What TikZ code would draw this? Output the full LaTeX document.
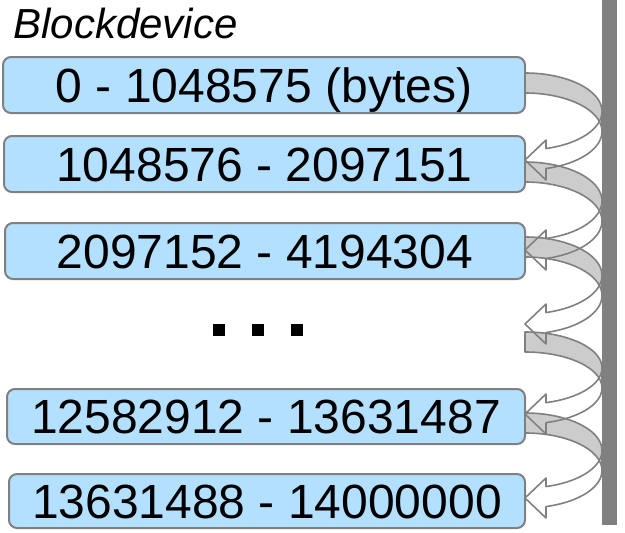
\documentclass[tikz,border=0pt]{standalone}
\usepackage{fontspec}
\setmainfont{Liberation Sans}
\definecolor{boxfill}{HTML}{B4E0FF}
\definecolor{edgegray}{HTML}{808080}
\definecolor{bandgray}{HTML}{CCCCCC}
\tikzset{
  blockbox/.style={draw=edgegray, line width=2pt, fill=boxfill, rounded corners=8pt,
    inner sep=0pt, text height=34.4pt, text depth=0pt,
    font=\fontsize{48}{48}\selectfont},
  bandfill/.style={fill=bandgray},
  frontfill/.style={fill=white},
  bandline/.style={draw=edgegray, line width=1.6pt, line join=round},
  dotsq/.style={fill=black, minimum size=12pt, inner sep=0pt},
}
% Curved arrow: left ends at x=525, bulge reaches x=602.
% #1 = top of the band, #2 = y of the arrow tip, #3 = path options
\newcommand\bandback[3]{%
  \pgfmathsetmacro\ra{(#2-#1-10)/2}%
  \path[#3] (525,#1)
    -- plot[domain=-90:0, samples=40, variable=\t] ({525+77*cos(\t)},{#1+\ra+\ra*sin(\t)})
    -- plot[domain=0:-90, samples=40, variable=\t] ({525+77*cos(\t)},{#1+20+\ra+\ra*sin(\t)})
    -- cycle;}
\newcommand\bandfront[3]{%
  \pgfmathsetmacro\ra{(#2-#1-10)/2}%
  \pgfmathsetmacro\ha{acos(21/77)}%
  \path[#3] (602,{#1+\ra})
    -- plot[domain=0:\ha, samples=40, variable=\t] ({525+77*cos(\t)},{#1+\ra+\ra*sin(\t)})
    -- (546,{#2-20}) -- (525,#2) -- (546,{#2+20})
    -- plot[domain=\ha:0, samples=40, variable=\t] ({525+77*cos(\t)},{#1+20+\ra+\ra*sin(\t)})
    -- cycle;}
\begin{document}
\begin{tikzpicture}[x=1pt, y=-1pt]
  \useasboundingbox (0,0) rectangle (625,533);

  \node[anchor=base west, font=\fontsize{42}{42}\selectfont\itshape] (title) at (10,38) {Blockdevice};

  \node[blockbox, minimum width=522pt, minimum height=56pt] (b1) at (264,85) {0 - 1048575 (bytes)};
  \node[blockbox, minimum width=521pt, minimum height=56pt] (b2) at (264.5,164) {1048576 - 2097151};
  \node[blockbox, minimum width=520pt, minimum height=56pt] (b3) at (265,251) {2097152 - 4194304};
  \node[blockbox, minimum width=518pt, minimum height=55pt] (b4) at (266,416.5) {12582912 - 13631487};
  \node[blockbox, minimum width=516pt, minimum height=54pt] (b5) at (267,501) {13631488 - 14000000};

  \node[dotsq] (d1) at (218.5,330) {};
  \node[dotsq] (d2) at (258,330) {};
  \node[dotsq] (d3) at (297,330) {};

  % fills first, in stacking order
  \foreach \top/\tip in {73/160, 162/250, 237/324, 332/414, 413/498} {
    \bandback{\top}{\tip}{bandfill}
    \bandfront{\top}{\tip}{frontfill}
  }
  % then every outline on top
  \foreach \top/\tip in {73/160, 162/250, 237/324, 332/414, 413/498} {
    \bandback{\top}{\tip}{bandline}
    \bandfront{\top}{\tip}{bandline}
  }

  % vertical bar on the right
  \fill[edgegray] (602,0) rectangle (617,525);
\end{tikzpicture}
\end{document}
